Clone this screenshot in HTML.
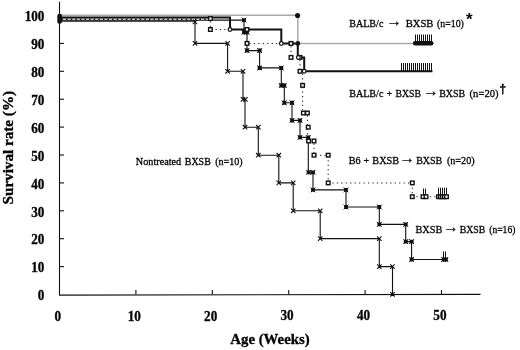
<!DOCTYPE html><html><head><meta charset="utf-8"><style>html,body{margin:0;padding:0;background:#fff}svg{display:block}text{font-family:"Liberation Serif",serif;fill:#000}</style></head><body>
<svg width="520" height="350" viewBox="0 0 520 350">
<rect width="520" height="350" fill="#fff"/>
<g stroke="#111" stroke-width="1.1" fill="none">
<path d="M59.5,1.7 V295.1 L480.5,294.4"/>
<path d="M59.5,266.6 h4.5"/>
<path d="M59.5,238.7 h4.5"/>
<path d="M59.5,210.8 h4.5"/>
<path d="M59.5,182.9 h4.5"/>
<path d="M59.5,155.0 h4.5"/>
<path d="M59.5,127.1 h4.5"/>
<path d="M59.5,99.2 h4.5"/>
<path d="M59.5,71.3 h4.5"/>
<path d="M59.5,43.4 h4.5"/>
<path d="M59.5,15.5 h4.5"/>
<path d="M135.9,294.5 v-4.5"/>
<path d="M212.3,294.5 v-4.5"/>
<path d="M288.7,294.5 v-4.5"/>
<path d="M365.1,294.5 v-4.5"/>
<path d="M441.5,294.5 v-4.5"/>
</g>
<g stroke="#aaa" stroke-width="1.5" fill="none">
<path d="M59.5,15.2 H297.8 V43.4 H414"/>
</g>
<path d="M59.5,21.2 L195.0,21.2 L195.0,43.4 L227.6,43.4 L227.6,71.3 L243.0,71.3 L243.0,99.4 L245.0,99.4 L245.0,127.2 L258.3,127.2 L258.3,155.2 L278.8,155.2 L278.8,182.9 L293.2,182.9 L293.2,210.8 L320.2,210.8 L320.2,238.6 L379.3,238.6 L379.3,266.6 L392.5,266.6 L392.5,294.3" stroke="#111" stroke-width="1.1" fill="none"/>
<path d="M59.5,20.1 L244.0,20.1 L244.0,32.2 L247.0,32.2 L247.0,50.6 L259.6,50.6 L259.6,67.9 L281.3,67.9 L281.3,85.4 L284.3,85.4 L284.3,102.8 L292.0,102.8 L292.0,120.4 L300.0,120.4 L300.0,137.4 L308.3,137.4 L308.3,172.3 L313.0,172.3 L313.0,189.9 L346.0,189.9 L346.0,207.0 L379.3,207.0 L379.3,224.4 L405.7,224.4 L405.7,241.6 L411.6,241.6 L411.6,259.5 L445.0,259.5" stroke="#111" stroke-width="1.1" fill="none"/>
<g stroke="#222" stroke-width="1.05" fill="none" stroke-dasharray="1.25 3.2" stroke-dashoffset="-2.4">
<path d="M210.4,18.8 V29.5 H230"/>
<path d="M247,43.4 H291 V57.4 M300,57.4 V71.3 M302.6,71.3 V113 M307.5,113 V141 M314,141 V155.2 H328.2 V182.9 H412.3 V196.7 H447"/>
</g>
<path d="M59.5,17.6 L230.0,17.6 L230.0,29.5 L281.3,29.5 L281.3,43.4 L297.8,43.4 L297.8,57.4 L304.2,57.4 L304.2,71.2 L432.5,71.2" stroke="#111" stroke-width="2" fill="none" stroke-linejoin="miter"/>
<path d="M59.5,19.3 H209" stroke="#111" stroke-width="1.5" fill="none"/>
<path d="M63,19.2 H209" stroke="#fff" stroke-width="1.15" stroke-dasharray="3.1 1.5" fill="none"/>
<g stroke="#111" stroke-width="1" fill="none">
<path d="M415.50,34.5 V42"/>
<path d="M417.50,34.5 V42"/>
<path d="M419.50,34.5 V42"/>
<path d="M421.50,34.5 V42"/>
<path d="M423.50,34.5 V42"/>
<path d="M425.50,34.5 V42"/>
<path d="M427.50,34.5 V42"/>
<path d="M429.50,34.5 V42"/>
<path d="M431.50,34.5 V42"/>
<path d="M401.50,63 V71"/>
<path d="M403.50,63 V71"/>
<path d="M405.50,63 V71"/>
<path d="M407.50,63 V71"/>
<path d="M409.50,63 V71"/>
<path d="M411.50,63 V71"/>
<path d="M413.50,63 V71"/>
<path d="M415.50,63 V71"/>
<path d="M417.50,63 V71"/>
<path d="M419.50,63 V71"/>
<path d="M421.50,63 V71"/>
<path d="M423.50,63 V71"/>
<path d="M425.50,63 V71"/>
<path d="M427.50,63 V71"/>
<path d="M429.50,63 V71"/>
<path d="M431.50,63 V71"/>
<path d="M423.50,188.5 V196"/>
<path d="M425.50,188.5 V196"/>
<path d="M438.50,187.7 V196"/>
<path d="M440.50,187.7 V196"/>
<path d="M442.50,187.7 V196"/>
<path d="M444.50,187.7 V196"/>
<path d="M446.50,187.7 V196"/>
<path d="M443.50,251.4 V259"/>
<path d="M445.50,251.4 V259"/>
</g>
<path d="M415.2,43.3 H431.2" stroke="#111" stroke-width="4.6" stroke-linecap="round" fill="none"/>
<path d="M192.8,19.8 L197.2,24.2 M192.8,24.2 L197.2,19.8 M192.8,41.2 L197.2,45.6 M192.8,45.6 L197.2,41.2 M225.4,41.2 L229.8,45.6 M225.4,45.6 L229.8,41.2 M225.4,69.1 L229.8,73.5 M225.4,73.5 L229.8,69.1 M240.8,69.1 L245.2,73.5 M240.8,73.5 L245.2,69.1 M240.8,97.2 L245.2,101.6 M240.8,101.6 L245.2,97.2 M243.2,97.2 L247.6,101.6 M243.2,101.6 L247.6,97.2 M242.8,125.0 L247.2,129.4 M242.8,129.4 L247.2,125.0 M256.1,125.0 L260.5,129.4 M256.1,129.4 L260.5,125.0 M256.1,153.0 L260.5,157.4 M256.1,157.4 L260.5,153.0 M276.6,153.0 L281.0,157.4 M276.6,157.4 L281.0,153.0 M276.6,180.7 L281.0,185.1 M276.6,185.1 L281.0,180.7 M291.0,180.7 L295.4,185.1 M291.0,185.1 L295.4,180.7 M291.0,208.6 L295.4,213.0 M291.0,213.0 L295.4,208.6 M318.0,208.6 L322.4,213.0 M318.0,213.0 L322.4,208.6 M318.0,236.4 L322.4,240.8 M318.0,240.8 L322.4,236.4 M377.1,236.4 L381.5,240.8 M377.1,240.8 L381.5,236.4 M377.1,264.4 L381.5,268.8 M377.1,268.8 L381.5,264.4 M390.3,264.4 L394.7,268.8 M390.3,268.8 L394.7,264.4 M390.3,292.1 L394.7,296.5 M390.3,296.5 L394.7,292.1" stroke="#111" stroke-width="1.1" fill="none"/>
<path d="M242.1,18.2 H245.9 V22.1 H242.1 Z M242.1,30.3 H245.9 V34.2 H242.1 Z M245.1,30.3 H248.9 V34.2 H245.1 Z M245.1,48.6 H248.9 V52.6 H245.1 Z M257.7,48.6 H261.6 V52.6 H257.7 Z M257.7,66.0 H261.6 V69.9 H257.7 Z M279.4,66.0 H283.2 V69.9 H279.4 Z M279.4,83.5 H283.2 V87.4 H279.4 Z M282.4,83.5 H286.2 V87.4 H282.4 Z M282.4,100.8 H286.2 V104.8 H282.4 Z M290.1,100.8 H293.9 V104.8 H290.1 Z M290.1,118.5 H293.9 V122.4 H290.1 Z M298.1,118.5 H301.9 V122.4 H298.1 Z M298.1,135.5 H301.9 V139.3 H298.1 Z M306.4,135.5 H310.2 V139.3 H306.4 Z M306.7,170.4 H310.6 V174.2 H306.7 Z M311.1,170.4 H314.9 V174.2 H311.1 Z M311.1,188.0 H314.9 V191.8 H311.1 Z M344.1,188.0 H347.9 V191.8 H344.1 Z M344.1,205.1 H347.9 V208.9 H344.1 Z M377.4,205.1 H381.2 V208.9 H377.4 Z M377.4,222.5 H381.2 V226.3 H377.4 Z M403.8,222.5 H407.6 V226.3 H403.8 Z M403.8,239.7 H407.6 V243.5 H403.8 Z M409.7,239.7 H413.6 V243.5 H409.7 Z M409.7,257.6 H413.6 V261.4 H409.7 Z M441.7,257.6 H445.6 V261.4 H441.7 Z M443.9,257.6 H447.8 V261.4 H443.9 Z" stroke="none" fill="#111"/>
<path d="M241.6,17.7 L246.4,22.5 M241.6,22.5 L246.4,17.7 M241.6,29.8 L246.4,34.6 M241.6,34.6 L246.4,29.8 M244.6,29.8 L249.4,34.6 M244.6,34.6 L249.4,29.8 M244.6,48.2 L249.4,53.0 M244.6,53.0 L249.4,48.2 M257.2,48.2 L262.0,53.0 M257.2,53.0 L262.0,48.2 M257.2,65.5 L262.0,70.3 M257.2,70.3 L262.0,65.5 M278.9,65.5 L283.7,70.3 M278.9,70.3 L283.7,65.5 M278.9,83.0 L283.7,87.8 M278.9,87.8 L283.7,83.0 M281.9,83.0 L286.7,87.8 M281.9,87.8 L286.7,83.0 M281.9,100.4 L286.7,105.2 M281.9,105.2 L286.7,100.4 M289.6,100.4 L294.4,105.2 M289.6,105.2 L294.4,100.4 M289.6,118.0 L294.4,122.8 M289.6,122.8 L294.4,118.0 M297.6,118.0 L302.4,122.8 M297.6,122.8 L302.4,118.0 M297.6,135.0 L302.4,139.8 M297.6,139.8 L302.4,135.0 M305.9,135.0 L310.7,139.8 M305.9,139.8 L310.7,135.0 M306.2,169.9 L311.0,174.7 M306.2,174.7 L311.0,169.9 M310.6,169.9 L315.4,174.7 M310.6,174.7 L315.4,169.9 M310.6,187.5 L315.4,192.3 M310.6,192.3 L315.4,187.5 M343.6,187.5 L348.4,192.3 M343.6,192.3 L348.4,187.5 M343.6,204.6 L348.4,209.4 M343.6,209.4 L348.4,204.6 M376.9,204.6 L381.7,209.4 M376.9,209.4 L381.7,204.6 M376.9,222.0 L381.7,226.8 M376.9,226.8 L381.7,222.0 M403.3,222.0 L408.1,226.8 M403.3,226.8 L408.1,222.0 M403.3,239.2 L408.1,244.0 M403.3,244.0 L408.1,239.2 M409.2,239.2 L414.0,244.0 M409.2,244.0 L414.0,239.2 M409.2,257.1 L414.0,261.9 M409.2,261.9 L414.0,257.1 M441.2,257.1 L446.0,261.9 M441.2,261.9 L446.0,257.1 M443.4,257.1 L448.2,261.9 M443.4,261.9 L448.2,257.1" stroke="#111" stroke-width="1" fill="none"/>
<g stroke="#111" stroke-width="1.4" fill="#fff">
<rect x="208.6" y="16.8" width="3.6" height="3.6"/>
<rect x="208.6" y="27.7" width="3.6" height="3.6"/>
<rect x="245.2" y="27.7" width="3.6" height="3.6"/>
<rect x="245.2" y="41.6" width="3.6" height="3.6"/>
<rect x="289.2" y="41.6" width="3.6" height="3.6"/>
<rect x="289.2" y="55.6" width="3.6" height="3.6"/>
<rect x="298.2" y="55.6" width="3.6" height="3.6"/>
<rect x="298.2" y="69.5" width="3.6" height="3.6"/>
<rect x="300.8" y="83.6" width="3.6" height="3.6"/>
<rect x="301.6" y="111.2" width="3.6" height="3.6"/>
<rect x="305.6" y="111.2" width="3.6" height="3.6"/>
<rect x="306.4" y="125.4" width="3.6" height="3.6"/>
<rect x="306.8" y="139.2" width="3.6" height="3.6"/>
<rect x="312.2" y="139.2" width="3.6" height="3.6"/>
<rect x="312.2" y="153.4" width="3.6" height="3.6"/>
<rect x="326.4" y="153.4" width="3.6" height="3.6"/>
<rect x="326.4" y="181.1" width="3.6" height="3.6"/>
<rect x="410.5" y="181.1" width="3.6" height="3.6"/>
<rect x="410.5" y="194.9" width="3.6" height="3.6"/>
<rect x="421.2" y="194.9" width="3.6" height="3.6"/>
<rect x="424.2" y="194.9" width="3.6" height="3.6"/>
<rect x="436.7" y="194.9" width="3.6" height="3.6"/>
<rect x="438.7" y="194.9" width="3.6" height="3.6"/>
<rect x="440.7" y="194.9" width="3.6" height="3.6"/>
<rect x="442.7" y="194.9" width="3.6" height="3.6"/>
<rect x="444.7" y="194.9" width="3.6" height="3.6"/>
</g>
<g stroke="#111" stroke-width="1.25" fill="#fff">
<circle cx="230.0" cy="29.5" r="1.85"/>
<circle cx="281.3" cy="43.4" r="1.85"/>
<circle cx="291.0" cy="43.4" r="1.85"/>
<circle cx="298.4" cy="57.4" r="1.85"/>
<circle cx="304.2" cy="71.3" r="1.85"/>
</g>
<circle cx="297.6" cy="15.5" r="2.55" fill="#111"/><circle cx="297.8" cy="43.4" r="2.4" fill="#111"/>
<rect x="57.3" y="13.8" width="4.6" height="10" rx="2" fill="#111"/>
<text transform="translate(44.4,300.2) scale(0.915,1)" font-size="14.4" font-weight="bold" text-anchor="end" stroke="#111" stroke-width="0.35">0</text>
<text transform="translate(44.4,272.3) scale(0.915,1)" font-size="14.4" font-weight="bold" text-anchor="end" stroke="#111" stroke-width="0.35">10</text>
<text transform="translate(44.4,244.4) scale(0.915,1)" font-size="14.4" font-weight="bold" text-anchor="end" stroke="#111" stroke-width="0.35">20</text>
<text transform="translate(44.4,216.5) scale(0.915,1)" font-size="14.4" font-weight="bold" text-anchor="end" stroke="#111" stroke-width="0.35">30</text>
<text transform="translate(44.4,188.6) scale(0.915,1)" font-size="14.4" font-weight="bold" text-anchor="end" stroke="#111" stroke-width="0.35">40</text>
<text transform="translate(44.4,160.7) scale(0.915,1)" font-size="14.4" font-weight="bold" text-anchor="end" stroke="#111" stroke-width="0.35">50</text>
<text transform="translate(44.4,132.8) scale(0.915,1)" font-size="14.4" font-weight="bold" text-anchor="end" stroke="#111" stroke-width="0.35">60</text>
<text transform="translate(44.4,104.9) scale(0.915,1)" font-size="14.4" font-weight="bold" text-anchor="end" stroke="#111" stroke-width="0.35">70</text>
<text transform="translate(44.4,77.0) scale(0.915,1)" font-size="14.4" font-weight="bold" text-anchor="end" stroke="#111" stroke-width="0.35">80</text>
<text transform="translate(44.4,49.1) scale(0.915,1)" font-size="14.4" font-weight="bold" text-anchor="end" stroke="#111" stroke-width="0.35">90</text>
<text transform="translate(44.4,21.2) scale(0.915,1)" font-size="14.4" font-weight="bold" text-anchor="end" stroke="#111" stroke-width="0.35">100</text>
<text transform="translate(57.9,320.9) scale(0.915,1)" font-size="14.4" font-weight="bold" text-anchor="middle" stroke="#111" stroke-width="0.35">0</text>
<text transform="translate(134.3,320.7) scale(0.915,1)" font-size="14.4" font-weight="bold" text-anchor="middle" stroke="#111" stroke-width="0.35">10</text>
<text transform="translate(210.7,320.5) scale(0.915,1)" font-size="14.4" font-weight="bold" text-anchor="middle" stroke="#111" stroke-width="0.35">20</text>
<text transform="translate(287.1,320.3) scale(0.915,1)" font-size="14.4" font-weight="bold" text-anchor="middle" stroke="#111" stroke-width="0.35">30</text>
<text transform="translate(363.5,320.1) scale(0.915,1)" font-size="14.4" font-weight="bold" text-anchor="middle" stroke="#111" stroke-width="0.35">40</text>
<text transform="translate(439.9,319.9) scale(0.915,1)" font-size="14.4" font-weight="bold" text-anchor="middle" stroke="#111" stroke-width="0.35">50</text>
<text transform="translate(270.0,344.3) scale(0.95,1)" font-size="15.6" font-weight="bold" text-anchor="middle" stroke="#111" stroke-width="0.35">Age (Weeks)</text>
<text transform="translate(13.4,147.7) rotate(-90)" font-weight="bold" font-size="15.15" text-anchor="middle" stroke="#000" stroke-width="0.35">Survival rate (%)</text>
<text x="135.8" y="164.8" font-size="10.9" textLength="45.4" lengthAdjust="spacingAndGlyphs" stroke="#000" stroke-width="0.3">Nontreated</text>
<text x="184.8" y="164.8" font-size="10.9" textLength="26.0" lengthAdjust="spacingAndGlyphs" stroke="#000" stroke-width="0.3">BXSB</text>
<text x="215.2" y="164.8" font-size="10.9" textLength="27.4" lengthAdjust="spacingAndGlyphs" stroke="#000" stroke-width="0.3">(n=10)</text>
<text x="349.2" y="27.0" font-size="11.3" textLength="34.2" lengthAdjust="spacingAndGlyphs" stroke="#000" stroke-width="0.3">BALB/c</text>
<text x="394.1" y="26.0" font-size="15.2" text-anchor="middle" stroke="#000" stroke-width="0.25">→</text>
<text x="405.7" y="27.0" font-size="11.3" textLength="27.7" lengthAdjust="spacingAndGlyphs" stroke="#000" stroke-width="0.3">BXSB</text>
<text x="436.9" y="27.0" font-size="11.3" textLength="27.0" lengthAdjust="spacingAndGlyphs" stroke="#000" stroke-width="0.3">(n=10)</text>
<text x="349.2" y="97.0" font-size="11.3" textLength="34.2" lengthAdjust="spacingAndGlyphs" stroke="#000" stroke-width="0.3">BALB/c</text>
<text x="386.5" y="97.0" font-size="11.3" textLength="5.6" lengthAdjust="spacingAndGlyphs" stroke="#000" stroke-width="0.3">+</text>
<text x="395.6" y="97.0" font-size="11.3" textLength="25.4" lengthAdjust="spacingAndGlyphs" stroke="#000" stroke-width="0.3">BXSB</text>
<text x="430.9" y="96.2" font-size="15.2" text-anchor="middle" stroke="#000" stroke-width="0.25">→</text>
<text x="439.2" y="97.0" font-size="11.3" textLength="26.0" lengthAdjust="spacingAndGlyphs" stroke="#000" stroke-width="0.3">BXSB</text>
<text x="469.6" y="97.0" font-size="11.3" textLength="28.9" lengthAdjust="spacingAndGlyphs" stroke="#000" stroke-width="0.3">(n=20)</text>
<text x="348.8" y="163.6" font-size="11.3" textLength="11.9" lengthAdjust="spacingAndGlyphs" stroke="#000" stroke-width="0.3">B6</text>
<text x="363.5" y="163.6" font-size="11.3" textLength="5.6" lengthAdjust="spacingAndGlyphs" stroke="#000" stroke-width="0.3">+</text>
<text x="372.3" y="163.6" font-size="11.3" textLength="26.9" lengthAdjust="spacingAndGlyphs" stroke="#000" stroke-width="0.3">BXSB</text>
<text x="407.2" y="162.8" font-size="15.2" text-anchor="middle" stroke="#000" stroke-width="0.25">→</text>
<text x="416.2" y="163.6" font-size="11.3" textLength="26.1" lengthAdjust="spacingAndGlyphs" stroke="#000" stroke-width="0.3">BXSB</text>
<text x="446.9" y="163.6" font-size="11.3" textLength="27.7" lengthAdjust="spacingAndGlyphs" stroke="#000" stroke-width="0.3">(n=20)</text>
<text x="415.5" y="233.3" font-size="11.3" textLength="26.9" lengthAdjust="spacingAndGlyphs" stroke="#000" stroke-width="0.3">BXSB</text>
<text x="450.8" y="232.1" font-size="15.2" text-anchor="middle" stroke="#000" stroke-width="0.25">→</text>
<text x="459.7" y="233.3" font-size="11.3" textLength="25.7" lengthAdjust="spacingAndGlyphs" stroke="#000" stroke-width="0.3">BXSB</text>
<text x="489.2" y="233.3" font-size="11.3" textLength="26.2" lengthAdjust="spacingAndGlyphs" stroke="#000" stroke-width="0.3">(n=16)</text>
<text x="469.2" y="25.4" font-size="17" font-weight="bold" text-anchor="middle" style="font-family:'Liberation Sans',sans-serif">*</text>
<text x="502.7" y="92.6" font-size="12.5" font-weight="bold" stroke="#000" stroke-width="0.3" text-anchor="middle" style="font-family:'Liberation Sans',sans-serif">†</text>
</svg></body></html>
